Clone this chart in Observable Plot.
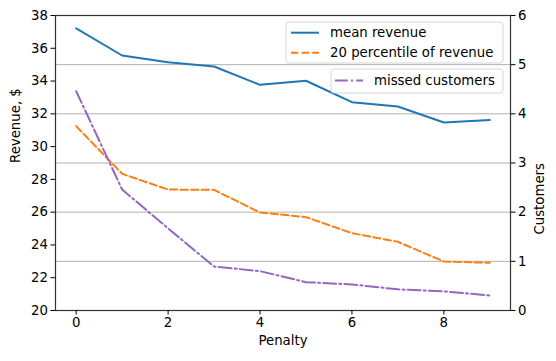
<!DOCTYPE html>
<html>
<head>
<meta charset="utf-8">
<script src="https://cdn.jsdelivr.net/npm/d3@7"></script>
<script src="https://cdn.jsdelivr.net/npm/@observablehq/plot@0.6"></script>
<style>
  html, body { margin: 0; padding: 0; background: #fff; }
  svg { font-family: "DejaVu Sans", sans-serif; }
</style>
</head>
<body>
<div id="chart"></div>
<script>
const penalty = [0, 1, 2, 3, 4, 5, 6, 7, 8, 9];
const meanRevenue = [37.22, 35.56, 35.15, 34.89, 33.77, 34.02, 32.71, 32.45, 31.47, 31.62];
const p20Revenue = [31.25, 28.34, 27.38, 27.36, 25.98, 25.7, 24.72, 24.19, 22.99, 22.91];
const missedCustomers = [4.46, 2.46, 1.67, 0.895, 0.8, 0.576, 0.53, 0.43, 0.39, 0.305];
const leftTicks = [20, 22, 24, 26, 28, 30, 32, 34, 36, 38];
const rightTicks = [0, 1, 2, 3, 4, 5, 6];
const gridCustomers = [1, 2, 3, 4, 5];
const xTicks = [0, 2, 4, 6, 8];

// customers -> revenue-axis coordinates (0..6 maps onto 20..38)
const c2r = c => 20 + 3 * c;

const rows = penalty.map((p, i) => ({p, mean: meanRevenue[i], p20: p20Revenue[i], missed: missedCustomers[i]}));

const W = 556, H = 361, mL = 55, mR = 46, mT = 15, mB = 51;
const FS = 13.3;

const plot = Plot.plot({
  width: W, height: H,
  marginLeft: mL, marginRight: mR, marginTop: mT, marginBottom: mB,
  style: {fontFamily: "DejaVu Sans, sans-serif", fontSize: FS + "px", color: "#000", background: "#fff"},
  x: {domain: [-0.45, 9.45]},
  y: {domain: [20, 38]},
  marks: [
    Plot.ruleY(gridCustomers.map(c2r), {stroke: "#b0b0b0", strokeWidth: 1}),
    Plot.line(rows, {x: "p", y: "mean", stroke: "#1f77b4", strokeWidth: 2}),
    Plot.line(rows, {x: "p", y: "p20", stroke: "#ff7f0e", strokeWidth: 2, strokeDasharray: "7.4,3.2"}),
    Plot.line(rows, {x: "p", y: d => c2r(d.missed), stroke: "#9467bd", strokeWidth: 2, strokeDasharray: "12.8,3.2,2,3.2"}),
    Plot.frame({stroke: "#333", strokeWidth: 1.2}),
    Plot.axisY({anchor: "left", ticks: leftTicks, tickSize: 4.5, tickPadding: 3, label: null, fontSize: FS}),
    Plot.axisY({anchor: "right", ticks: rightTicks.map(c2r), tickFormat: d => String(Math.round((d - 20) / 3)), tickSize: 4.5, tickPadding: 3, label: null, fontSize: FS}),
    Plot.axisX({ticks: xTicks, tickSize: 4.5, tickPadding: 3, label: null, fontSize: FS}),
    Plot.text(["Revenue, $"], {frameAnchor: "left", dx: -40, rotate: -90, fontSize: FS, fill: "#000"}),
    Plot.text(["Customers"], {frameAnchor: "right", dx: 29, rotate: -90, fontSize: FS, fill: "#000"}),
    Plot.text(["Penalty"], {frameAnchor: "bottom", dy: 34, fontSize: FS, fill: "#000"})
  ]
});

document.getElementById("chart").appendChild(plot);

// legends (matplotlib style boxes)
const svg = d3.select(plot);
const legends = [
  {box: [286, 22, 217, 41], items: [
    {label: "mean revenue", color: "#1f77b4", dash: null, x: 291, y: 32.7},
    {label: "20 percentile of revenue", color: "#ff7f0e", dash: "7.4,3.2", x: 291, y: 52.7}
  ]},
  {box: [331, 69, 172, 24], items: [
    {label: "missed customers", color: "#9467bd", dash: "12.8,3.2,2,3.2", x: 335, y: 80.5}
  ]}
];
for (const lg of legends) {
  const g = svg.append("g").attr("text-anchor", "start");
  g.append("rect").attr("x", lg.box[0]).attr("y", lg.box[1]).attr("width", lg.box[2]).attr("height", lg.box[3])
    .attr("rx", 3).attr("fill", "#fff").attr("fill-opacity", 0.85).attr("stroke", "#d5d5d5");
  for (const it of lg.items) {
    const ln = g.append("line").attr("x1", it.x).attr("x2", it.x + 28).attr("y1", it.y).attr("y2", it.y)
      .attr("stroke", it.color).attr("stroke-width", 2);
    if (it.dash) ln.attr("stroke-dasharray", it.dash);
    g.append("text").attr("x", it.x + 39).attr("y", it.y).attr("dy", "0.35em")
      .attr("text-anchor", "start").attr("font-size", FS).attr("fill", "#000").text(it.label);
  }
}
</script>
</body>
</html>
